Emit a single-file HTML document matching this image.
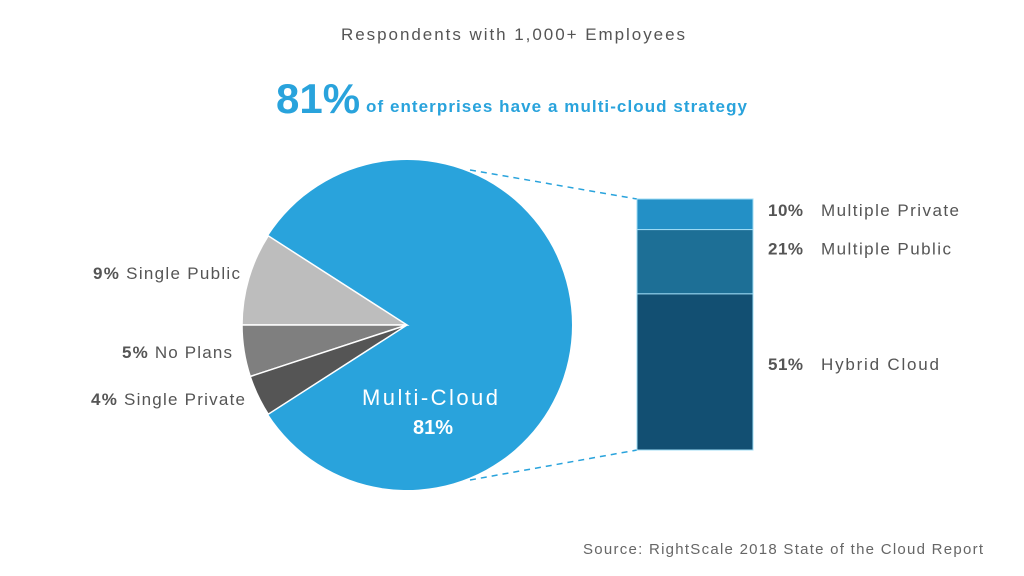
<!DOCTYPE html>
<html><head><meta charset="utf-8"><style>
body{margin:0;background:#fff;width:1024px;height:576px;overflow:hidden;font-family:"Liberation Sans",sans-serif}
svg{display:block}
</style></head><body>
<svg id="c" width="1024" height="576">
<text x="341" y="40" font-size="17" fill="#555" textLength="344" lengthAdjust="spacing">Respondents with 1,000+ Employees</text>
<text x="276" y="113" font-size="42" font-weight="bold" fill="#29a3dc">81%</text>
<text x="366" y="112" font-size="17" font-weight="bold" fill="#29a3dc" textLength="381" lengthAdjust="spacing">of enterprises have a multi-cloud strategy</text>
<g id="pie"></g>
<g id="bar"></g>
<text x="583" y="554" font-size="15" fill="#666" textLength="400" lengthAdjust="spacing">Source: RightScale 2018 State of the Cloud Report</text>
</svg>
<script>
const pieLabels=["Single Public","No Plans","Single Private"];
const pieValues=[9,5,4];
const multiValue=81;
const barLabels=["Multiple Private","Multiple Public","Hybrid Cloud"];
const barValues=[10,21,51];
const NS="http://www.w3.org/2000/svg";
function mk(t,a,p){const e=document.createElementNS(NS,t);for(const k in a)e.setAttribute(k,a[k]);p.appendChild(e);return e;}
const cx=407,cy=325,r=165;
const pie=document.getElementById('pie');
const total=pieValues.reduce((a,b)=>a+b,0)+multiValue;
function pt(deg,rr){const a=deg*Math.PI/180;return [cx+rr*Math.cos(a),cy-rr*Math.sin(a)];}
let start=180-pieValues[0]/total*360;
const grays=["#bdbdbd","#7f7f7f","#555555"];
const labelY=[279,358,405];
const labelX=[93,122,91];
const labelW=[147,110,154];
let gEnd=start+pieValues.reduce((a,b)=>a+b,0)/total*360;
{const [x1,y1]=pt(gEnd,r),[x2,y2]=pt(start+360,r);
const m=mk('path',{d:`M${cx},${cy}L${x1},${y1}A${r},${r} 0 1 0 ${x2},${y2}Z`,fill:"#29a3dc"},pie);

}
let a0=start;
pieValues.forEach((v,i)=>{const a1=a0+v/total*360;const [x1,y1]=pt(a0,r),[x2,y2]=pt(a1,r);
const p=mk('path',{d:`M${cx},${cy}L${x1},${y1}A${r},${r} 0 0 0 ${x2},${y2}Z`,fill:grays[i],stroke:"#fff","stroke-width":1.5},pie);


const t=mk('text',{x:labelX[i],y:labelY[i],"font-size":17,fill:"#555",textLength:labelW[i],lengthAdjust:"spacing"},pie);


t.innerHTML=`<tspan font-weight="bold">${v}%</tspan> ${pieLabels[i]}`;
a0=a1;});
const mt=mk('text',{x:362,y:405,"font-size":22,fill:"#fff",textLength:136,lengthAdjust:"spacing"},pie);mt.textContent="Multi-Cloud";


const mv=mk('text',{x:433,y:434,"text-anchor":"middle","font-size":20,"font-weight":"bold",fill:"#fff"},pie);mv.textContent=multiValue+"%";


const bar=document.getElementById('bar');
const bx=637,bw=116,btop=199,bbot=450;
const sum=barValues.reduce((a,b)=>a+b,0);
const sc=(bbot-btop)/sum;
const bc=["#2390c6","#1d6f96","#124f72"];
const barLabelW=[138,130,118];
let y=btop;
const c1=mk('line',{x1:470,y1:170,x2:bx,y2:btop,stroke:"#29a3dc","stroke-width":1.5,"stroke-dasharray":"6,5"},bar);


const c2=mk('line',{x1:470,y1:480,x2:bx,y2:bbot,stroke:"#29a3dc","stroke-width":1.5,"stroke-dasharray":"6,5"},bar);


barValues.forEach((v,i)=>{const h=v*sc;
const rc=mk('rect',{x:bx,y:y,width:bw,height:h,fill:bc[i],stroke:"#9fdcf5","stroke-width":1},bar);


const ly=i===0?y+17:(i===1?y+25:y+76);
const tp=mk('text',{x:768,y:ly,"font-size":17,"font-weight":"bold",fill:"#555",textLength:35,lengthAdjust:"spacing"},bar);


tp.textContent=v+"%";
const t=mk('text',{x:821,y:ly,"font-size":17,fill:"#555",textLength:barLabelW[i],lengthAdjust:"spacing"},bar);


t.textContent=barLabels[i];
y+=h;});
</script>
</body></html>
